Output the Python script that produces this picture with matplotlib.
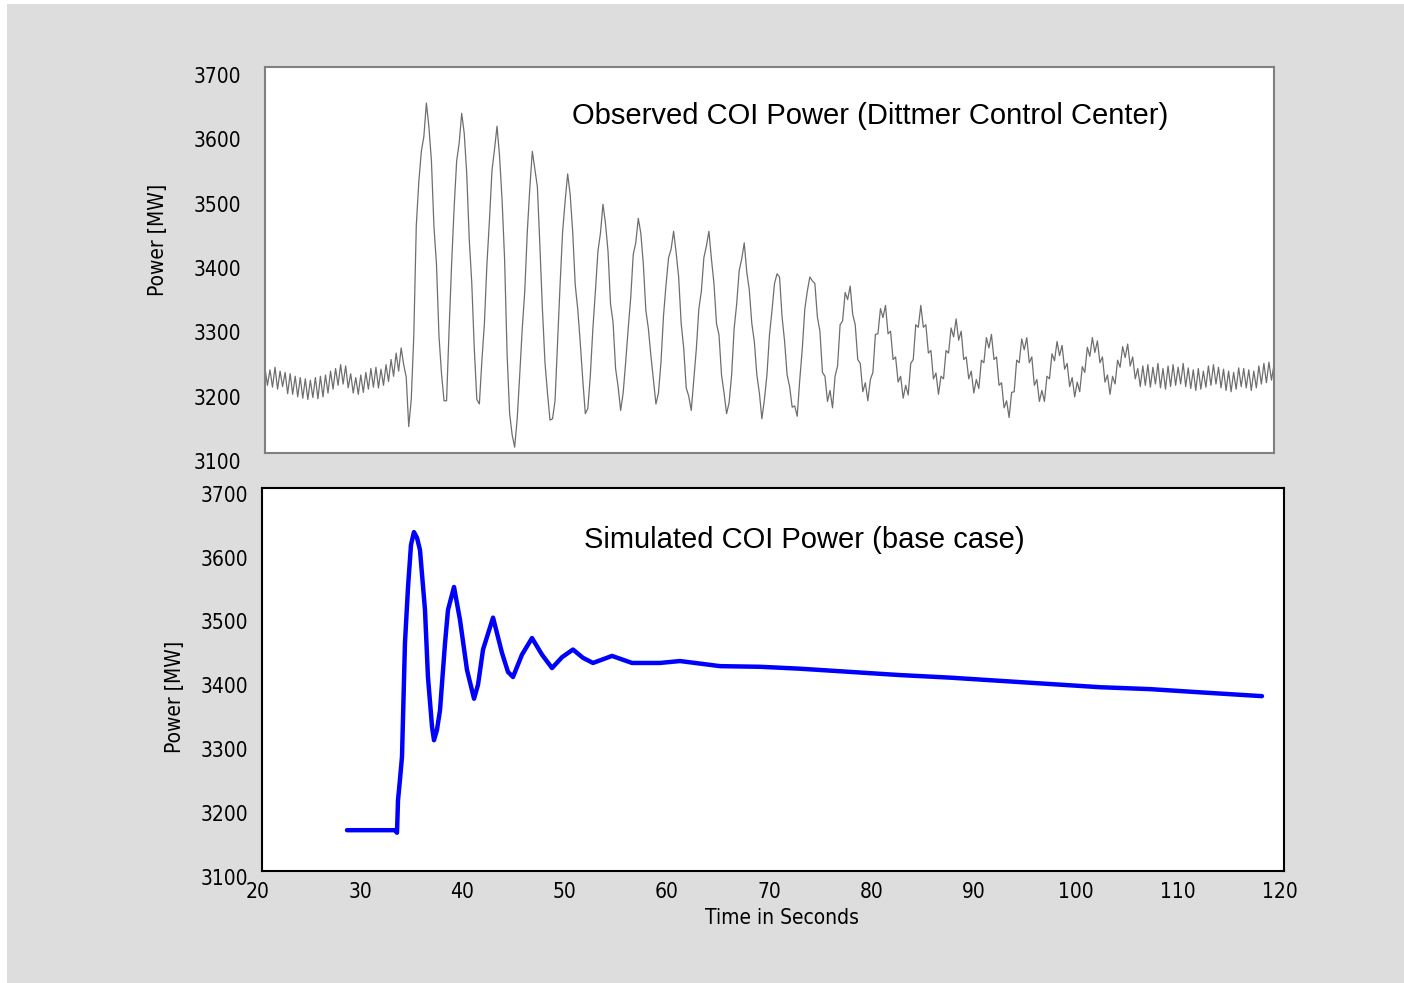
import numpy as np
import matplotlib
matplotlib.use('Agg')
import matplotlib.pyplot as plt
from matplotlib.patches import Rectangle
from matplotlib import font_manager

# condensed face for the axis numbers, if there is one
names = {f.name for f in font_manager.fontManager.ttflist}
if 'Liberation Sans Narrow' in names:
    tick_font = dict(family=['Liberation Sans Narrow', 'DejaVu Sans'], fontsize=16.5)
else:
    tick_font = dict(family=['DejaVu Sans'], fontstretch='condensed', fontsize=15)
title_font = dict(family=['Liberation Sans', 'DejaVu Sans'], fontsize=21)

# observed COI power, sampled every 0.25 s from 20 s to 120 s
obs_mw = [
    3245, 3218, 3242, 3215, 3246, 3212, 3240, 3216, 3238, 3205, 3236, 3204,
    3232, 3200, 3230, 3198, 3228, 3196, 3226, 3199, 3230, 3197, 3232, 3200,
    3234, 3206, 3240, 3212, 3244, 3218, 3250, 3220, 3248, 3214, 3236, 3206,
    3230, 3204, 3234, 3207, 3238, 3212, 3244, 3215, 3246, 3214, 3243, 3218,
    3250, 3224, 3258, 3232, 3268, 3240, 3276, 3250,
    3231, 3154, 3196, 3294, 3466, 3534, 3581, 3604, 3656, 3619, 3566, 3464,
    3406, 3294, 3236, 3194, 3194, 3304, 3406, 3494, 3566, 3594, 3640, 3609,
    3546, 3444, 3376, 3274, 3196, 3189, 3256, 3314, 3406, 3474, 3551, 3584,
    3620, 3574, 3506, 3414, 3266, 3174, 3141, 3122, 3166, 3234, 3306, 3364,
    3456, 3524, 3581, 3554, 3526, 3434, 3336, 3254, 3206, 3164, 3166, 3194,
    3286, 3374, 3456, 3504, 3546, 3514, 3456, 3374, 3336, 3284, 3226, 3174,
    3182, 3234, 3306, 3364, 3426, 3454, 3499, 3469, 3426, 3344, 3316, 3244,
    3216, 3179, 3206, 3254, 3306, 3354, 3421, 3439, 3477, 3454, 3406, 3334,
    3306, 3264, 3226, 3189, 3206, 3254, 3326, 3374, 3416, 3429, 3457, 3424,
    3386, 3314, 3276, 3214, 3201, 3179, 3226, 3274, 3336, 3364, 3416, 3434,
    3457, 3414, 3376, 3314, 3296, 3234, 3206, 3174, 3191, 3234, 3306, 3344,
    3396, 3414, 3439, 3394, 3366, 3314, 3286, 3234, 3206, 3166, 3196, 3234,
    3296, 3334, 3376, 3391, 3386, 3324, 3286, 3234, 3216, 3184, 3186, 3170,
    3226, 3274, 3336, 3364, 3386, 3380, 3376, 3324,
    3302, 3238, 3232, 3193, 3210, 3183, 3232, 3248, 3312, 3318, 3362, 3351,
    3372, 3328, 3312, 3258, 3252, 3208, 3222, 3194, 3227, 3238, 3297, 3298,
    3337, 3323, 3342, 3298, 3302, 3258, 3262, 3223, 3232, 3198, 3218, 3203,
    3252, 3258, 3312, 3308, 3342, 3308, 3312, 3268, 3272, 3228, 3237, 3204,
    3232, 3228, 3272, 3268, 3307, 3293, 3321, 3288, 3302, 3258, 3262, 3228,
    3240, 3206, 3227, 3213, 3257, 3253, 3292, 3276, 3297, 3258, 3262, 3218,
    3222, 3183, 3194, 3168, 3207, 3208, 3257, 3253, 3290, 3273, 3292, 3253,
    3262, 3218, 3227, 3193, 3210, 3193, 3232, 3228, 3267, 3256, 3286, 3264,
    3280, 3243, 3252, 3216, 3230, 3200, 3223, 3208, 3247, 3238, 3277, 3263,
    3292, 3269, 3287, 3253, 3262, 3223, 3234, 3204, 3232, 3220, 3257, 3246,
    3278, 3261, 3282, 3248, 3262, 3228, 3244, 3216,
    3248, 3218, 3250, 3215, 3246, 3220, 3252, 3214, 3244, 3212, 3248, 3216,
    3250, 3218, 3246, 3220, 3252, 3216, 3245, 3213, 3242, 3210, 3244, 3212,
    3240, 3215, 3248, 3218, 3250, 3220, 3246, 3214, 3243, 3210, 3240, 3208,
    3238, 3212, 3245, 3216, 3244, 3214, 3242, 3210, 3240, 3214, 3248, 3220,
    3252, 3222, 3254, 3226, 3250]
obs_t = np.linspace(20, 120, len(obs_mw))

# simulated COI power (base case)
sim_t = [28.71, 33.41, 33.60, 33.70, 33.89, 34.09, 34.38, 34.68, 34.97, 35.26,
         35.56, 35.85, 36.34, 36.63, 37.03, 37.22, 37.51, 37.81, 38.30, 38.59,
         39.18, 39.77, 40.45, 41.14, 41.53, 42.02, 43.00, 43.87, 44.46, 44.95,
         45.83, 46.81, 47.79, 48.77, 49.75, 50.82, 51.80, 52.78, 54.64, 56.60,
         59.33, 61.29, 63.25, 65.20, 69.12, 73.03, 77.93, 82.82, 87.71, 92.60,
         97.50, 102.39, 107.28, 112.17, 118.24]
sim_mw = [3173, 3173, 3169, 3220, 3252, 3288, 3466, 3554, 3620, 3640,
          3631, 3612, 3518, 3413, 3335, 3314, 3330, 3361, 3466, 3518,
          3554, 3502, 3424, 3379, 3401, 3456, 3506, 3451, 3421, 3413,
          3448, 3474, 3448, 3427, 3444, 3456, 3443, 3435, 3446, 3435,
          3435, 3438, 3434, 3430, 3429, 3426, 3421, 3416, 3412, 3407,
          3402, 3397, 3394, 3389, 3383]

y_ticks = [3100, 3200, 3300, 3400, 3500, 3600, 3700]
x_ticks = [20, 30, 40, 50, 60, 70, 80, 90, 100, 110, 120]

fig = plt.figure(figsize=(14.04, 9.83), dpi=100, facecolor='white')
fig.patches.append(Rectangle((7/1404, 0), 1, 1 - 4/983, transform=fig.transFigure,
                             facecolor='#dddddd', edgecolor='none', zorder=-5))

# top: observed
ax1 = fig.add_axes([0.1887, 0.5392, 0.7187, 0.3927])
ax1.plot(obs_t, obs_mw, color='#6e6e6e', linewidth=0.9)
ax1.set_xlim(20, 120)
ax1.set_ylim(3113, 3712)
ax1.set_xticks([])
ax1.set_yticks([])
for s in ax1.spines.values():
    s.set_color('#808080')
    s.set_linewidth(1.5)
for v in y_ticks:
    ax1.annotate(str(v), xy=(0, v), xycoords=('axes fraction', 'data'),
                 xytext=(-24, -2), textcoords='offset pixels',
                 ha='right', va='center', annotation_clip=False, **tick_font)
ax1.text(0.5996, 0.873, 'Observed COI Power (Dittmer Control Center)',
         transform=ax1.transAxes, ha='center', va='center', **title_font)

# bottom: simulated
ax2 = fig.add_axes([0.1866, 0.1139, 0.7279, 0.3896])
ax2.plot(sim_t, sim_mw, color='#0000ff', linewidth=3.2,
         solid_joinstyle='round', solid_capstyle='round')
ax2.set_xlim(20.39, 120.39)
ax2.set_ylim(3109, 3709)
ax2.set_xticks([])
ax2.set_yticks([])
for s in ax2.spines.values():
    s.set_color('black')
    s.set_linewidth(1.5)
for v in y_ticks:
    ax2.annotate(str(v), xy=(0, v), xycoords=('axes fraction', 'data'),
                 xytext=(-14, -2), textcoords='offset pixels',
                 ha='right', va='center', annotation_clip=False, **tick_font)
for v in x_ticks:
    ax2.annotate(str(v), xy=(v, 0), xycoords=('data', 'axes fraction'),
                 xytext=(0, -21), textcoords='offset pixels',
                 ha='center', va='center', annotation_clip=False, **tick_font)
ax2.text(0.531, 0.864, 'Simulated COI Power (base case)',
         transform=ax2.transAxes, ha='center', va='center', **title_font)

fig.text(0.1125, 0.7558, 'Power [MW]', rotation=90, ha='center', va='center', **tick_font)
fig.text(0.1246, 0.2909, 'Power [MW]', rotation=90, ha='center', va='center', **tick_font)
fig.text(0.557, 0.0661, 'Time in Seconds', ha='center', va='center', **tick_font)

fig.savefig('out.png', dpi=100, facecolor=fig.get_facecolor())
